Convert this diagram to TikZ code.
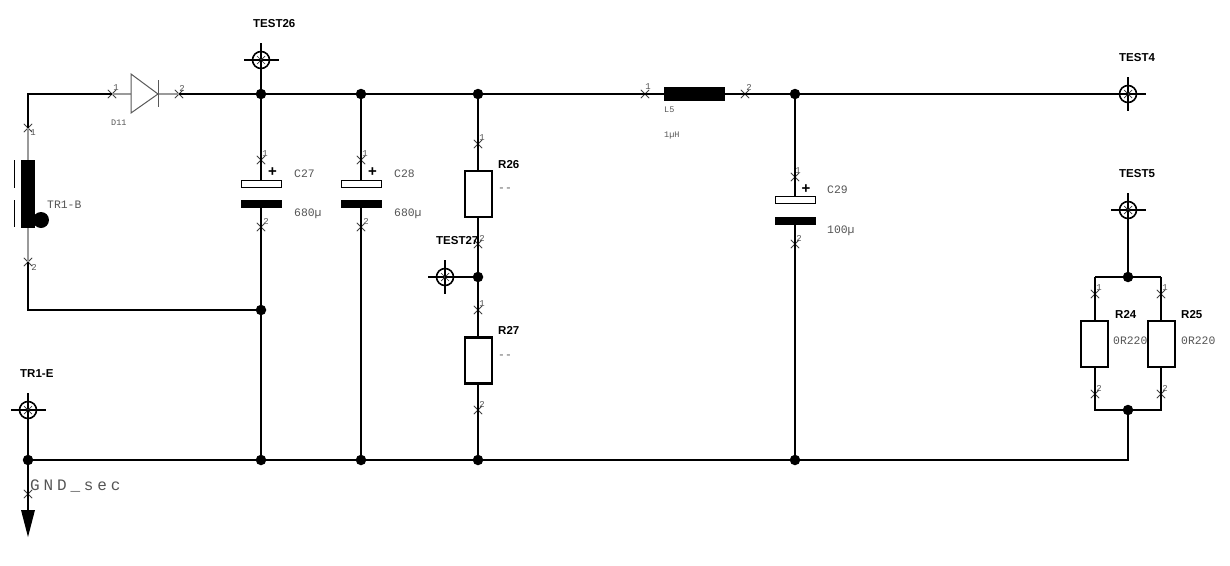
\documentclass[tikz,border=0pt]{standalone}
\usepackage{fontspec}
\setmainfont{Liberation Sans}
\newfontface\stroke{Liberation Mono}
\newfontface\strokewide[LetterSpace=24]{Liberation Mono}
\usetikzlibrary{shapes.misc}
\definecolor{leadgray}{HTML}{9A9A9A}
\definecolor{textgray}{HTML}{555555}
\tikzset{
  wire/.style={line width=2.3pt,black},
  thinlead/.style={line width=1.2pt,black},
  graylead/.style={line width=1.5pt,leadgray},
  junction/.style={circle,fill=black,draw=none,minimum size=10.5pt,inner sep=0pt},
  pinx/.style={cross out,draw=black!75,line width=.8pt,minimum size=7.5pt,inner sep=0pt},
  pinlabel/.style={font=\stroke\fontsize{9}{10}\selectfont,text=textgray,inner sep=0pt},
  compname/.style={font=\bfseries\fontsize{11.5}{12}\selectfont,text=black,inner sep=0pt,anchor=west},
  valtext/.style={font=\stroke\fontsize{11.4}{12}\selectfont,text=textgray,inner sep=0pt,anchor=west},
  smalltext/.style={font=\stroke\fontsize{8.5}{9}\selectfont,text=textgray,inner sep=0pt,anchor=west},
  tpring/.style={circle,draw=black,line width=1.6pt,minimum size=17pt,inner sep=0pt},
  tpline/.style={line width=1.4pt,black},
  resbox/.style={draw=black,line width=2.2pt,fill=white,minimum width=27pt,minimum height=46pt,inner sep=0pt,outer sep=0pt},
  capwhite/.style={draw=black,line width=.9pt,fill=white,minimum width=40pt,minimum height=7pt,inner sep=0pt,outer sep=0pt},
  capblack/.style={fill=black,minimum width=41pt,minimum height=8pt,inner sep=0pt,outer sep=0pt},
  plusmark/.style={font=\bfseries\fontsize{15}{15}\selectfont,inner sep=0pt},
}
% test point: ring, cross hairs and inner spokes
\newcommand{\testpt}[3]{%
  \node[tpring] (#1) at (#2,#3) {};
  \draw[tpline] (#2-17,#3) -- (#2+18,#3) (#2,#3-17) -- (#2,#3+17);
  \draw[line width=.7pt,black!80] (#2-4,#3-4) -- (#2+4,#3+4) (#2-4,#3+4) -- (#2+4,#3-4);
}
\begin{document}
\begin{tikzpicture}[x=1pt,y=-1pt]
\useasboundingbox (0,0) rectangle (1230,565);
\fill[white] (0,0) rectangle (1230,565);

% junctions
\foreach \n/\x/\y in {jt1/261/94,jt2/361/94,jt3/478/94,jt4/795/94,
  jl/261/310,jm/478/277,jb0/28/460,jb1/261/460,jb2/361/460,jb3/478/460,jb4/795/460,
  jrt/1128/277,jrb/1128/410}
  \node[junction] (\n) at (\x,\y) {};
% free corners
\coordinate (cTL) at (28,94);
\coordinate (cBL) at (28,310);
\coordinate (cBR) at (1128,460);
\coordinate (c24t) at (1095,277);
\coordinate (c25t) at (1161,277);
\coordinate (c24b) at (1095,410);
\coordinate (c25b) at (1161,410);
% pins
\foreach \n/\x/\y in {pD1/112/94,pD2/179/94,pT1/28/128,pT2/28/262,
  p27a/261/160,p27b/261/227,p28a/361/160,p28b/361/227,
  p26a/478/144,p26b/478/244,p27c/478/310,p27d/478/410,
  pL1/645/94,pL2/745/94,p29a/795/177,p29b/795/244,
  p24a/1095/294,p24b/1095/394,p25a/1161/294,p25b/1161/394,pG/28/494}
  \node[pinx] (\n) at (\x,\y) {};
\foreach \x/\y/\t in {116/88/1,182/88/2,33/133/1,34/267/2,
  265/154/1,266/221/2,365/154/1,366/221/2,
  482/138/1,482/238/2,482/304/1,482/404/2,
  648/87/1,749/87/2,798/171/1,799/238/2,
  1099/288/1,1099/388/2,1165/288/1,1165/388/2}
  \node[pinlabel] at (\x,\y) {\t};

% components (placed first as anchors for the leads)
\testpt{T26}{261}{60}
\testpt{T4}{1128}{94}
\testpt{T5}{1128}{210}
\testpt{T27}{445}{277}
\testpt{TE}{28}{410}

% thin leads
\draw[thinlead] (p27a.center) -- (261,180) (261,208) -- (p27b.center);
\draw[thinlead] (p28a.center) -- (361,180) (361,208) -- (p28b.center);
\draw[thinlead] (p29a.center) -- (795,197) (795,225) -- (p29b.center);
\draw[thinlead] (pL1.center) -- (664,94) (725,94) -- (pL2.center);
\draw[graylead] (pD1.center) -- (131,94) (158,94) -- (pD2.center);
\draw[graylead] (pT1.center) -- (28,160) (28,228) -- (pT2.center);

% thick wires
\draw[wire] (pT1.center) -- (cTL) -- (pD1.center);
\draw[wire] (pD2.center) -- (jt1.center) -- (jt2.center) -- (jt3.center) -- (pL1.center);
\draw[wire] (pL2.center) -- (jt4.center) -- (T4.center);
\draw[wire] (pT2.center) -- (cBL) -- (jl.center);
\draw[wire] (T26.center) -- (jt1.center) -- (p27a.center);
\draw[wire] (p27b.center) -- (jl.center) -- (jb1.center);
\draw[wire] (jt2.center) -- (p28a.center);
\draw[wire] (p28b.center) -- (jb2.center);
\draw[wire] (jt3.center) -- (p26a.center) -- (p26b.center) -- (jm.center) -- (p27c.center) -- (p27d.center) -- (jb3.center);
\draw[tpline] (T27.center) -- (jm.center);
\draw[wire] (jt4.center) -- (p29a.center);
\draw[wire] (p29b.center) -- (jb4.center);
\draw[wire] (TE.center) -- (jb0.center) -- (jb1.center) -- (jb2.center) -- (jb3.center) -- (jb4.center) -- (cBR) -- (jrb.center);
\draw[wire] (T5.center) -- (jrt.center);
\draw[wire] (c24t) -- (jrt.center) -- (c25t);
\draw[wire] (p24a.center) -- (c24t);
\draw[wire] (p25a.center) -- (c25t);
\draw[wire] (p24a.center) -- (p24b.center) -- (c24b) -- (jrb.center) -- (c25b) -- (p25b.center) -- (p25a.center);

% ground
\coordinate (gtip) at (28,510);
\draw[wire] (jb0.center) -- (gtip);
\fill[black] (21,510) -- (35,510) -- (28,537) -- cycle;

% diode
\draw[line width=1pt,black!65] (131,74) -- (158,94) -- (131,113) -- cycle;
\draw[line width=1pt,black!65] (158,80) -- (158,107);

% transformer winding
\fill[black] (21,160) rectangle (35,228);
\fill[black] (41,220) circle (8);
\draw[line width=.9pt,black] (14,160) -- (14,188) (14,200) -- (14,227);

% capacitors
\foreach \n/\x/\yw/\yb in {C27/261/183.5/204,C28/361/183.5/204,C29/795/200/221}{
  \node[capwhite] (\n w) at (\x,\yw) {};
  \node[capblack] (\n b) at (\x,\yb) {};
}
\node[plusmark] at (272.5,172) {+};
\node[plusmark] at (372.5,172) {+};
\node[plusmark] at (806,189) {+};

% resistors
\node[resbox] (R26) at (478.5,194) {};
\node[resbox] (R27) at (478.5,360.5) {};
\node[resbox] (R24) at (1094.5,344) {};
\node[resbox] (R25) at (1161.5,344) {};

% inductor
\node[fill=black,minimum width=61pt,minimum height=14pt,inner sep=0pt] (L5) at (694.5,94) {};

% names
\node[compname] at (253,23.7) {TEST26};
\node[compname] at (1119,57.7) {TEST4};
\node[compname] at (1119,173.7) {TEST5};
\node[compname] at (436,240.7) {TEST27};
\node[compname] at (20,373.7) {TR1-E};
\node[compname] at (498,164.7) {R26};
\node[compname] at (498,330.7) {R27};
\node[compname] at (1115,314.7) {R24};
\node[compname] at (1181,314.7) {R25};

% values
\node[valtext] at (47,205) {TR1-B};
\node[valtext] at (294,174) {C27};
\node[valtext] at (294,214) {680µ};
\node[valtext] at (394,174) {C28};
\node[valtext] at (394,214) {680µ};
\node[valtext] at (827,190) {C29};
\node[valtext] at (827,231) {100µ};
\node[valtext] at (498,190) {--};
\node[valtext] at (498,357) {--};
\node[valtext] at (1113,341) {0R220};
\node[valtext] at (1181,341) {0R220};
\node[smalltext] at (111,123) {D11};
\node[smalltext] at (664,110) {L5};
\node[smalltext] at (664,136) {1µH};
\node[inner sep=0pt,anchor=west,text=textgray,font=\strokewide\fontsize{16}{16}\selectfont] at (30,486) {GND\_sec};
\end{tikzpicture}
\end{document}
